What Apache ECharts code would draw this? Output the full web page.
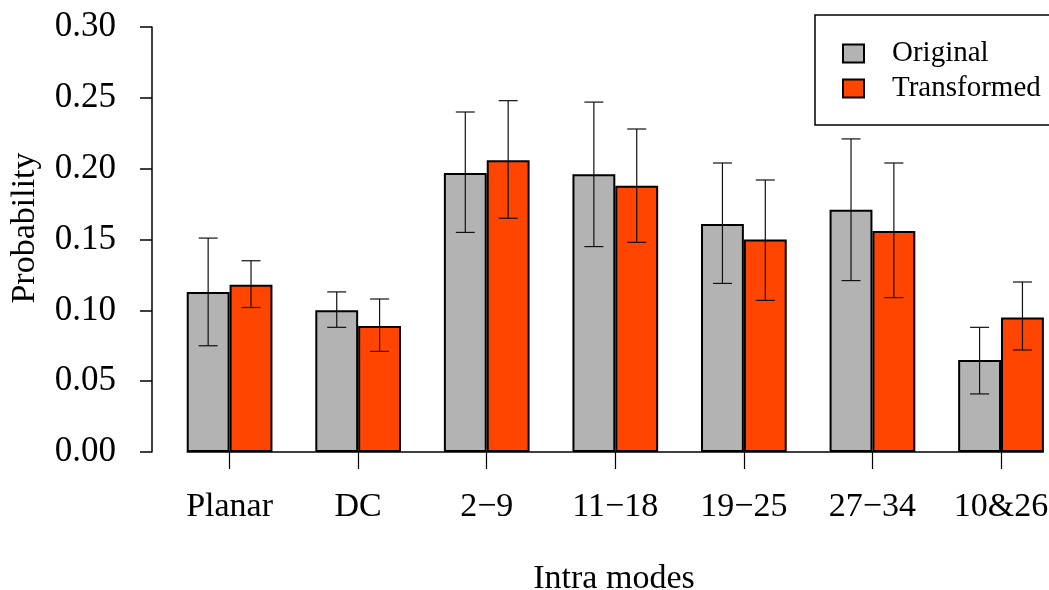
<!DOCTYPE html>
<html>
<head>
<meta charset="utf-8">
<script src="https://cdn.jsdelivr.net/npm/echarts@6/dist/echarts.min.js"></script>
<style>html,body{margin:0;padding:0;background:#fff;}#c{width:1049px;height:590px;}</style>
</head>
<body>
<div id="c"></div>
<script>
const categories = ['Planar', 'DC', '2\u22129', '11\u221218', '19\u221225', '27\u221234', '10&26'];
const original = [0.113, 0.100, 0.197, 0.196, 0.161, 0.171, 0.065];
const transformed = [0.118, 0.089, 0.206, 0.188, 0.150, 0.156, 0.095];
const originalLow = [0.075, 0.088, 0.155, 0.145, 0.119, 0.121, 0.041];
const originalHigh = [0.151, 0.113, 0.240, 0.247, 0.204, 0.221, 0.088];
const transformedLow = [0.102, 0.071, 0.165, 0.148, 0.107, 0.109, 0.072];
const transformedHigh = [0.135, 0.108, 0.248, 0.228, 0.192, 0.204, 0.120];
const yTicks = [0.00, 0.05, 0.10, 0.15, 0.20, 0.25, 0.30];

const FONT = 'Liberation Serif';
const chart = echarts.init(document.getElementById('c'), null, {renderer: 'canvas'});

function errorSeries(name, low, high, sign) {
  return {
    type: 'custom',
    name: name + ' err',
    silent: true,
    z: 5,
    data: categories.map((c, i) => [i, low[i], high[i]]),
    renderItem: function (params, api) {
      const i = api.value(0);
      const hi = api.coord([i, api.value(2)]);
      const lo = api.coord([i, api.value(1)]);
      const bw = api.size([1, 0])[0];
      const x = hi[0] + sign * bw / 6;
      const cap = 9.5;
      const st = {stroke: '#111', lineWidth: 1.2, fill: null};
      return {
        type: 'group',
        children: [
          {type: 'line', shape: {x1: x, y1: hi[1], x2: x, y2: lo[1]}, style: st},
          {type: 'line', shape: {x1: x - cap, y1: hi[1], x2: x + cap, y2: hi[1]}, style: st},
          {type: 'line', shape: {x1: x - cap, y1: lo[1], x2: x + cap, y2: lo[1]}, style: st}
        ]
      };
    }
  };
}

const option = {
  animation: false,
  backgroundColor: '#ffffff',
  textStyle: {fontFamily: FONT},
  grid: {left: 165.3, width: 900, top: 27, bottom: 138, containLabel: false, outerBoundsMode: 'none'},
  legend: {
    orient: 'vertical',
    left: 815,
    top: 15,
    data: ['Original', 'Transformed'],
    icon: 'rect',
    itemWidth: 21,
    itemHeight: 18,
    itemGap: 6,
    padding: [24, 40, 22, 27],
    borderColor: '#000',
    borderWidth: 1.5,
    textStyle: {fontFamily: FONT, fontSize: 29, color: '#000', padding: [0, 0, 0, 23], lineHeight: 29},
    selectedMode: false
  },
  xAxis: {
    type: 'category',
    data: categories,
    axisLine: {show: false},
    axisTick: {show: true, alignWithLabel: true, length: 17, lineStyle: {color: '#000', width: 1.2}},
    axisLabel: {fontFamily: FONT, fontSize: 34, color: '#000', margin: 38, interval: 0},
    splitLine: {show: false}
  },
  yAxis: {
    type: 'value',
    min: 0,
    max: 0.30,
    interval: 0.05,
    offset: 13.3,
    axisLine: {show: true, lineStyle: {color: '#000', width: 1.5}},
    axisTick: {show: true, length: 12, lineStyle: {color: '#000', width: 1.5}},
    axisLabel: {fontFamily: FONT, fontSize: 35, color: '#000', margin: 36,
      formatter: v => yTicks.find(t => Math.abs(t - v) < 1e-9) !== undefined ? v.toFixed(2) : ''},
    splitLine: {show: false}
  },
  graphic: [
    {type: 'text', x: 25, y: 228, rotation: Math.PI / 2,
      style: {text: 'Probability', fontFamily: FONT, fontSize: 34, fill: '#000', align: 'center', verticalAlign: 'middle'}},
    {type: 'text', x: 614, y: 579,
      style: {text: 'Intra modes', fontFamily: FONT, fontSize: 34, fill: '#000', align: 'center', verticalAlign: 'middle'}}
  ],
  series: [
    {
      name: 'Original', type: 'bar', data: original,
      barGap: '0%', barCategoryGap: '33.333%',
      itemStyle: {color: '#b3b3b3', borderColor: '#000', borderWidth: 2},
      z: 2
    },
    {
      name: 'Transformed', type: 'bar', data: transformed,
      barGap: '0%', barCategoryGap: '33.333%',
      itemStyle: {color: '#ff4500', borderColor: '#000', borderWidth: 2},
      z: 2
    },
    errorSeries('Original', originalLow, originalHigh, -1),
    errorSeries('Transformed', transformedLow, transformedHigh, 1),
    {
      type: 'custom',
      name: 'baseline',
      silent: true,
      z: 4,
      data: categories.map((c, i) => [i]),
      renderItem: function (params, api) {
        const i = api.value(0);
        const p = api.coord([i, 0]);
        const bw = api.size([1, 0])[0];
        const last = i === categories.length - 1;
        return {
          type: 'line',
          shape: {x1: p[0] - bw / 3, y1: p[1], x2: p[0] + (last ? bw / 3 : 2 * bw / 3), y2: p[1]},
          style: {stroke: '#000', lineWidth: 1.5}
        };
      }
    }
  ]
};
chart.setOption(option);
</script>
</body>
</html>
